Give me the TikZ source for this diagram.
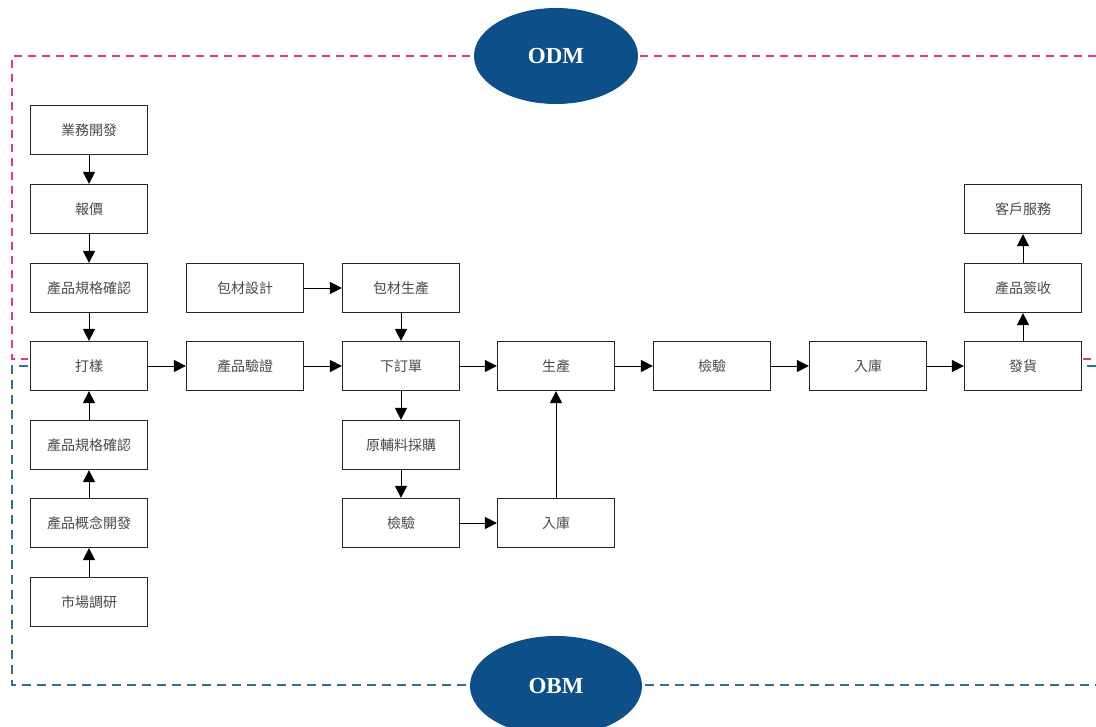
\documentclass[tikz,border=0pt]{standalone}
\usepackage{fontspec}
\setmainfont{Liberation Serif}
\newfontfamily\cjk{Noto Sans CJK TC}
\usetikzlibrary{arrows.meta,shapes.geometric}
\definecolor{odmpink}{HTML}{E8338A}
\definecolor{obmblue}{HTML}{2F6DA6}
\definecolor{ovalblue}{HTML}{0C4F89}
\definecolor{txtgray}{HTML}{4A4A4A}
\tikzset{
  stepbox/.style={draw=black!85, line width=1.2pt, fill=white, minimum width=117pt,
    minimum height=49pt, inner sep=0pt, font=\cjk\fontsize{14}{16}\selectfont, text=txtgray},
  flow/.style={line width=0.9pt, -{Triangle[length=12pt,width=12pt]}},
  modeloval/.style={ellipse, fill=ovalblue, inner sep=0pt, text=white,
    font=\bfseries\fontsize{23}{26}\selectfont},
  pinkdash/.style={odmpink, line width=1.1pt, dash pattern=on 8pt off 6pt},
  bluedash/.style={obmblue, line width=1.1pt, dash pattern=on 9pt off 6pt}
}
\begin{document}
\begin{tikzpicture}[x=1pt,y=-1pt]
    \useasboundingbox (0,0) rectangle (1096,727);
    % frames
    \draw[pinkdash] (470,56) -- (12,56) -- (12,359) -- (28,359);
    \draw[pinkdash] (640,56) -- (1096,56);
    \draw[pinkdash] (1083,359) -- (1096,359);
    \draw[bluedash] (28,366) -- (12,366) -- (12,685) -- (470,685);
    \draw[bluedash] (645,685) -- (1096,685);
    \draw[bluedash] (1087,366) -- (1096,366);
    \node[modeloval, minimum width=164pt, minimum height=96pt] (odm) at (556,56) {ODM};
    \node[modeloval, minimum width=172pt, minimum height=100pt] (obm) at (556,686) {OBM};
    % first column
    \node[stepbox] (dev) at (89,130) {業務開發};
    \node[stepbox] (quote) at (89,209) {報價};
    \node[stepbox] (specA) at (89,288) {產品規格確認};
    \node[stepbox] (sample) at (89,366) {打樣};
    \node[stepbox] (specB) at (89,445) {產品規格確認};
    \node[stepbox] (concept) at (89,523) {產品概念開發};
    \node[stepbox] (market) at (89,602) {市場調研};
    % packaging and orders
    \node[stepbox] (packdes) at (245,288) {包材設計};
    \node[stepbox] (verify) at (245,366) {產品驗證};
    \node[stepbox] (packmade) at (401,288) {包材生產};
    \node[stepbox] (order) at (401,366) {下訂單};
    \node[stepbox] (buy) at (401,445) {原輔料採購};
    \node[stepbox] (checkB) at (401,523) {檢驗};
    \node[stepbox] (stockB) at (556,523) {入庫};
    % main line
    \node[stepbox] (produce) at (556,366) {生產};
    \node[stepbox] (checkA) at (712,366) {檢驗};
    \node[stepbox] (stockA) at (868,366) {入庫};
    \node[stepbox] (ship) at (1023,366) {發貨};
    \node[stepbox] (sign) at (1023,288) {產品簽收};
    \node[stepbox] (service) at (1023,209) {客戶服務};
    % arrows
    \draw[flow] (dev) -- (quote);
    \draw[flow] (quote) -- (specA);
    \draw[flow] (specA) -- (sample);
    \draw[flow] (market) -- (concept);
    \draw[flow] (concept) -- (specB);
    \draw[flow] (specB) -- (sample);
    \draw[flow] (sample) -- (verify);
    \draw[flow] (verify) -- (order);
    \draw[flow] (packdes) -- (packmade);
    \draw[flow] (packmade) -- (order);
    \draw[flow] (order) -- (produce);
    \draw[flow] (order) -- (buy);
    \draw[flow] (buy) -- (checkB);
    \draw[flow] (checkB) -- (stockB);
    \draw[flow] (stockB) -- (produce);
    \draw[flow] (produce) -- (checkA);
    \draw[flow] (checkA) -- (stockA);
    \draw[flow] (stockA) -- (ship);
    \draw[flow] (ship) -- (sign);
    \draw[flow] (sign) -- (service);
\end{tikzpicture}
\end{document}
